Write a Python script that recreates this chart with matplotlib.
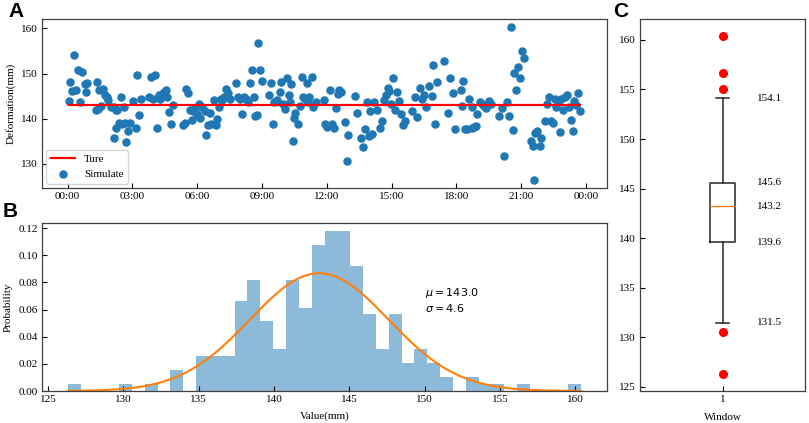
import numpy as np
import matplotlib
matplotlib.use("Agg")
import matplotlib.pyplot as plt
from matplotlib.ticker import FixedLocator, FixedFormatter

# ---------------- data ----------------
# Panel A: time (hours since 00:00) and simulated deformation (mm)
time_h = [0.05, 0.12, 0.20, 0.31, 0.38, 0.46, 0.58, 0.65, 0.80, 0.83, 0.89,
          1.31, 1.38, 1.40, 1.46, 1.54, 1.63, 1.72, 1.82, 1.88, 2.00, 2.15, 2.17,
          2.23, 2.25, 2.31, 2.38, 2.46, 2.52, 2.62, 2.66, 2.71, 2.80, 2.89, 3.05,
          3.15, 3.20, 3.29, 3.38, 3.77, 3.88, 3.97, 4.05, 4.15, 4.23, 4.28, 4.35,
          4.46, 4.55, 4.58, 4.71, 4.80, 4.89, 5.35, 5.43, 5.49, 5.57, 5.66, 5.74,
          5.82, 5.92, 6.00, 6.09, 6.15, 6.23, 6.34, 6.42, 6.49, 6.58, 6.66, 6.77,
          6.85, 6.92, 7.00, 7.08, 7.15, 7.26, 7.34, 7.43, 7.51, 7.82, 7.88, 8.00,
          8.08, 8.15, 8.28, 8.34, 8.43, 8.54, 8.62, 8.68, 8.77, 8.82, 8.92, 9.02,
          9.31, 9.42, 9.51, 9.57, 9.69, 9.82, 9.88, 9.97, 10.08, 10.18, 10.23,
          10.31, 10.34, 10.43, 10.49, 10.55, 10.66, 10.75, 10.85, 10.89, 10.97,
          11.08, 11.14, 11.20, 11.32, 11.38, 11.51, 11.85, 11.94, 12.00, 12.15,
          12.25, 12.34, 12.43, 12.51, 12.58, 12.68, 12.83, 12.92, 12.98, 13.32,
          13.42, 13.57, 13.66, 13.75, 13.88, 13.94, 14.00, 14.09, 14.17, 14.34,
          14.46, 14.55, 14.65, 14.74, 14.83, 14.89, 14.98, 15.08, 15.17, 15.25,
          15.34, 15.43, 15.51, 15.60, 15.94, 16.08, 16.17, 16.31, 16.40, 16.48,
          16.58, 16.74, 16.86, 16.92, 17.02, 17.09, 17.43, 17.60, 17.69, 17.85,
          17.94, 18.20, 18.28, 18.31, 18.40, 18.51, 18.60, 18.71, 18.74, 18.80,
          18.89, 18.95, 19.08, 19.17, 19.29, 19.38, 19.51, 19.60, 19.97, 20.11,
          20.20, 20.35, 20.43, 20.52, 20.62, 20.68, 20.77, 20.86, 20.95, 21.02,
          21.12, 21.46, 21.54, 21.60, 21.66, 21.75, 21.88, 21.94, 22.09, 22.20,
          22.28, 22.37, 22.46, 22.55, 22.62, 22.71, 22.80, 22.86, 22.95, 23.05,
          23.12, 23.20, 23.29, 23.38, 23.45, 23.54, 23.63, 23.74]
deformation = [143.85, 148.1, 146.1, 154.2, 146.4, 150.7, 143.6, 150.4, 147.6, 145.9, 147.8,
               142.0, 148.1, 142.2, 146.3, 142.9, 146.6, 145.2, 144.7, 144.1, 142.6, 142.6, 135.8,
               142.0, 138.0, 141.9, 139.0, 144.7, 138.7, 142.6, 139.0, 134.8, 137.2, 139.0, 144.0,
               137.9, 149.6, 140.9, 144.4, 144.8, 149.3, 144.4, 149.6, 138.0, 145.3, 144.4, 145.4,
               145.8, 146.3, 144.9, 141.4, 138.7, 143.0, 138.6, 139.0, 146.5, 145.6, 142.0, 139.6,
               141.6, 142.3, 141.1, 143.2, 140.1, 142.6, 141.6, 136.3, 138.5, 141.3, 138.7, 144.1,
               138.5, 139.8, 142.6, 144.4, 144.1, 144.8, 146.6, 145.6, 144.4, 147.9, 144.8, 144.4,
               141.1, 144.7, 144.3, 143.7, 147.9, 150.7, 144.8, 140.5, 140.7, 156.7, 150.7, 148.3,
               145.2, 147.8, 138.8, 143.7, 144.1, 145.9, 148.1, 143.3, 142.2, 149.0, 145.2,
               143.7, 147.6, 135.1, 140.2, 141.3, 138.7, 142.9, 149.3, 144.8, 144.4,
               147.8, 143.7, 144.8, 149.3, 142.6, 143.7, 144.2, 138.9, 138.1, 146.3,
               138.7, 137.9, 142.4, 145.4, 146.3, 145.9, 139.3, 130.5, 136.4, 145.0,
               141.3, 135.7, 133.6, 137.6, 143.7, 136.1, 141.6, 136.5, 143.7, 141.9,
               138.0, 139.5, 144.1, 145.3, 146.7, 146.1, 143.3, 149.1, 141.9, 145.9,
               143.9, 141.1, 138.5, 139.4, 141.6, 144.8, 140.4, 146.8, 144.3, 145.2,
               142.6, 147.2, 145.0, 151.9, 138.7, 148.1, 152.7, 141.3, 148.9, 145.6,
               137.8, 146.3, 142.7, 148.4, 137.6, 137.8, 144.4, 137.9, 142.6, 138.1,
               138.3, 141.0, 143.7, 143.3, 142.7, 142.4, 143.9, 143.2, 140.6, 142.4,
               131.6, 143.6, 140.6, 160.4, 137.4, 150.1, 146.3, 151.5, 149.1, 155.0,
               153.5, 135.0, 133.9, 126.3, 136.8, 137.2, 133.9, 135.6, 139.5, 143.3,
               144.8, 139.5, 139.0, 144.4, 142.6, 143.7, 137.0, 144.4, 141.9, 144.8,
               145.2, 142.6, 139.6, 137.2, 143.9, 143.0, 145.6, 141.7]
true_value = 143.0
time_ticks = [0, 3, 6, 9, 12, 15, 18, 21, 24]
time_labels = ["00:00", "03:00", "06:00", "09:00", "12:00", "15:00", "18:00", "21:00", "00:00"]

# Panel B: histogram counts per bin (40 bins between min and max)
hist_min, hist_max, n_bins = 126.3, 160.4, 40
hist_counts = [1, 0, 0, 0, 1, 0, 1, 0, 3, 0,
               5, 5, 5, 13, 16, 10, 6, 16, 12, 21,
               23, 23, 18, 11, 6, 11, 4, 6, 4, 2,
               0, 2, 1, 1, 0, 1, 0, 0, 0, 1]
mu, sigma = 143.0, 4.6

# Panel C: box statistics
box_stats = dict(whislo=131.5, q1=139.6, med=143.2, q3=145.6, whishi=154.1)
fliers = [160.4, 156.7, 155.0, 130.5, 126.3]
box_labels = [154.1, 145.6, 143.2, 139.6, 131.5]

# ---------------- style ----------------
SERIF = ["Liberation Serif", "DejaVu Serif"]
plt.rcParams["font.family"] = SERIF
plt.rcParams["font.size"] = 8
plt.rcParams["axes.edgecolor"] = "0.25"
plt.rcParams["axes.linewidth"] = 0.9
plt.rcParams["xtick.direction"] = "in"
plt.rcParams["ytick.direction"] = "in"
plt.rcParams["xtick.labelsize"] = 8
plt.rcParams["ytick.labelsize"] = 8
plt.rcParams["mathtext.fontset"] = "dejavusans"

fig = plt.figure(figsize=(8.09, 4.23), dpi=100)
W, H = 809, 423

def ax_px(l, t, r, b):
    return fig.add_axes([l / W, 1 - b / H, (r - l) / W, (b - t) / H])

axA = ax_px(42, 19, 607, 188)
axB = ax_px(42, 223, 607, 391)
axC = ax_px(640, 19, 805, 391)

# ---- Panel A ----
tmin, tmax = min(time_h), max(time_h)
axA.plot([tmin, tmax], [true_value, true_value], color="red", lw=1.6, label="Ture", zorder=3)
axA.scatter(time_h, deformation, s=26, color="#1f77b4", label="Simulate", zorder=2)
axA.xaxis.set_major_locator(FixedLocator(time_ticks))
axA.xaxis.set_major_formatter(FixedFormatter(time_labels))
axA.set_yticks([130, 140, 150, 160])
axA.set_ylabel("Deformation(mm)")
axA.legend(loc="lower left", fontsize=8, borderaxespad=0.4, handlelength=2.2)
xr = tmax - tmin
axA.set_xlim(tmin - 0.05 * xr - 0.05, tmax + 0.05 * xr + 0.05)

# ---- Panel B ----
edges = np.linspace(hist_min, hist_max, n_bins + 1)
centers = (edges[:-1] + edges[1:]) / 2
axB.hist(centers, bins=edges, weights=hist_counts, density=True,
         color="#1f77b4", alpha=0.5)
xs = np.linspace(hist_min, hist_max, 300)
pdf = np.exp(-0.5 * ((xs - mu) / sigma) ** 2) / (sigma * np.sqrt(2 * np.pi))
axB.plot(xs, pdf, color="#ff7f0e", lw=1.5)
axB.set_xticks([125, 130, 135, 140, 145, 150, 155, 160])
axB.set_yticks([0.00, 0.02, 0.04, 0.06, 0.08, 0.10, 0.12])
axB.yaxis.set_major_formatter(matplotlib.ticker.FormatStrFormatter("%.2f"))
axB.set_xlabel("Value(mm)", labelpad=5)
axB.set_ylabel("Probability")
axB.text(150.0, 0.067, "$\\mu=%.1f$\n$\\sigma=%.1f$" % (mu, sigma),
         family=["DejaVu Sans"], fontsize=8, ha="left", va="center")

# ---- Panel C ----
stats = dict(box_stats)
stats["fliers"] = fliers
axC.bxp([stats], positions=[1], widths=0.15, showfliers=True,
        boxprops=dict(color="0.15", lw=1.1),
        whiskerprops=dict(color="0.15", lw=1.1),
        capprops=dict(color="0.15", lw=1.1),
        medianprops=dict(color="#ff7f0e", lw=1.0),
        flierprops=dict(marker="o", markerfacecolor="red", markeredgecolor="red",
                        markersize=5.5, linestyle="none"))
axC.set_xlim(0.5, 1.5)
allv = fliers + list(box_stats.values())
lo, hi = min(allv), max(allv)
axC.set_ylim(lo - 0.05 * (hi - lo), hi + 0.05 * (hi - lo))
axC.set_yticks([125, 130, 135, 140, 145, 150, 155, 160])
axC.set_xticks([1])
axC.set_xticklabels(["1"])
axC.set_xlabel("Window", labelpad=6)
for v in box_labels:
    axC.text(1.207, v, "%.1f" % v, ha="left", va="center", fontsize=8)

for ax in (axA, axB, axC):
    ax.tick_params(top=False, right=False, length=3.5, width=0.8, pad=3)

# panel letters
for letter, x, y in (("A", 8, 2), ("B", 3, 202), ("C", 613, 2)):
    fig.text(x / W, 1 - y / H, letter, family=["Liberation Sans", "DejaVu Sans"],
             fontsize=15, fontweight="bold", ha="left", va="top")

fig.savefig("out.png", dpi=100)
